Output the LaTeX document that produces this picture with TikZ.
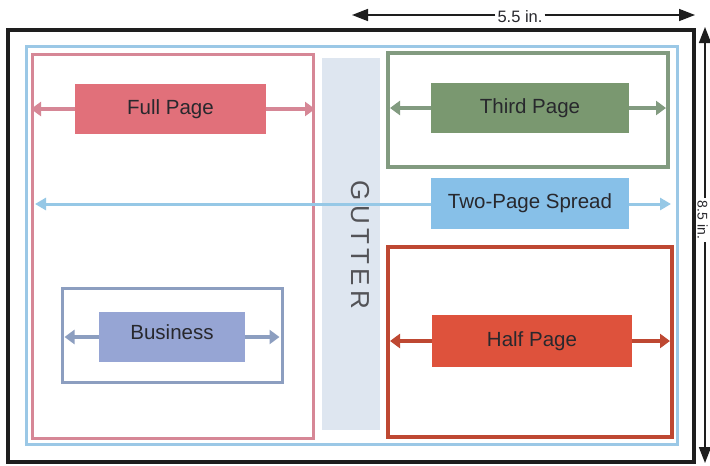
\documentclass[tikz,border=0pt]{standalone}
\usepackage{fontspec}
\setmainfont{Liberation Sans}
\usetikzlibrary{arrows.meta}
\definecolor{fullfill}{RGB}{225,112,122}
\definecolor{fullframe}{RGB}{214,135,150}
\definecolor{thirdfill}{RGB}{122,152,112}
\definecolor{thirdframe}{RGB}{130,155,128}
\definecolor{spreadfill}{RGB}{135,192,232}
\definecolor{spreadline}{RGB}{150,200,230}
\definecolor{halffill}{RGB}{222,82,60}
\definecolor{halfframe}{RGB}{190,72,50}
\definecolor{busfill}{RGB}{150,165,212}
\definecolor{busframe}{RGB}{140,158,192}
\definecolor{gutterfill}{RGB}{222,230,240}
\definecolor{outerblue}{RGB}{155,200,230}
\definecolor{inkdark}{RGB}{40,40,45}
\definecolor{framedark}{RGB}{30,30,30}
\tikzset{
  frame/.style={draw, rectangle, inner sep=0pt, fill=none},
  adbox/.style={rectangle, inner sep=0pt, text=inkdark, font=\fontsize{20.5}{24}\selectfont},
  blockarr/.style={line width=4.5pt, -{Triangle[length=10pt,width=14pt]}},
  thinarr/.style={line width=3pt, -{Triangle[length=11pt,width=12pt]}},
  dimarr/.style={line width=1.6pt, draw=framedark, -{Triangle[length=16pt,width=12pt]}},
  dimtext/.style={text=inkdark, font=\fontsize{16.5}{19}\selectfont, inner sep=2pt},
}
\begin{document}
\begin{tikzpicture}[x=1pt,y=-1pt]
\useasboundingbox (0,0) rectangle (710,466);
\fill[white] (0,0) rectangle (710,466);
% outer frames
\node[frame, draw=framedark, line width=4pt, minimum width=686pt, minimum height=432pt] (page) at (351,246) {};
\node[frame, draw=outerblue, line width=3pt, minimum width=651pt, minimum height=398pt] (trim) at (352,245) {};
% gutter
\node[rectangle, fill=gutterfill, inner sep=0pt, minimum width=58pt, minimum height=372pt] (gutter) at (351,244) {};
\node[rotate=-90, text=inkdark!80, font=\fontsize{26}{29}\selectfont] (guttertext) at (360,245) {G\,U\,T\,T\,E\,R};
% full page
\node[frame, draw=fullframe, line width=3pt, minimum width=281pt, minimum height=384pt] (fullframe) at (173,246) {};
\node[adbox, fill=fullfill, minimum width=191pt, minimum height=50pt] (full) at (170.5,109) {Full Page};
\draw[blockarr, draw=fullframe] (full.west) -- (fullframe.west |- full.west);
\draw[blockarr, draw=fullframe] (full.east) -- (fullframe.east |- full.east);
% third page
\node[frame, draw=thirdframe, line width=4pt, minimum width=280pt, minimum height=114pt] (thirdframe) at (528,110) {};
\node[adbox, fill=thirdfill, minimum width=198pt, minimum height=50pt] (third) at (530,108) {Third Page};
\draw[blockarr, draw=thirdframe] (third.west) -- ([xshift=4pt]thirdframe.west |- third.west);
\draw[blockarr, draw=thirdframe] (third.east) -- ([xshift=-4pt]thirdframe.east |- third.east);
% two-page spread
\node[adbox, fill=spreadfill, minimum width=198pt, minimum height=51pt] (spread) at (530,203) {Two-Page Spread};
\coordinate (spreadL) at (35,204);
\coordinate (spreadR) at (671,204);
\draw[thinarr, draw=spreadline] (spread.west |- spreadL) -- (spreadL);
\draw[thinarr, draw=spreadline] (spread.east |- spreadR) -- (spreadR);
% half page
\node[frame, draw=halfframe, line width=4pt, minimum width=284pt, minimum height=190pt] (halfframe) at (530,342) {};
\node[adbox, fill=halffill, minimum width=200pt, minimum height=52pt] (half) at (532,341) {Half Page};
\draw[blockarr, draw=halfframe] (half.west) -- ([xshift=4pt]halfframe.west |- half.west);
\draw[blockarr, draw=halfframe] (half.east) -- ([xshift=-4pt]halfframe.east |- half.east);
% business card
\node[frame, draw=busframe, line width=3pt, minimum width=220pt, minimum height=94pt] (busframe) at (172,335) {};
\node[adbox, fill=busfill, minimum width=146pt, minimum height=50pt] (bus) at (172,337) {};
\node[adbox] (bustext) at ([yshift=5pt]bus.center) {Business};
\draw[blockarr, draw=busframe] (bus.west) -- ([xshift=4pt]busframe.west |- bus.west);
\draw[blockarr, draw=busframe] (bus.east) -- ([xshift=-4pt]busframe.east |- bus.east);
% dimensions
\node[dimtext] (w55) at (520,17) {5.5 in.};
\coordinate (w55L) at (352,15);
\coordinate (w55R) at (695,15);
\draw[dimarr] (w55.west |- w55L) -- (w55L);
\draw[dimarr] (w55.east |- w55R) -- (w55R);
\node[dimtext, rotate=-90, font=\fontsize{14}{16}\selectfont, inner sep=3pt] (h85) at (702.5,220) {8.5 in.};
\coordinate (h85T) at (705,27);
\coordinate (h85B) at (705,463);
\draw[dimarr] (h85.west -| h85T) -- (h85T);
\draw[dimarr] (h85.east -| h85B) -- (h85B);
\end{tikzpicture}
\end{document}
